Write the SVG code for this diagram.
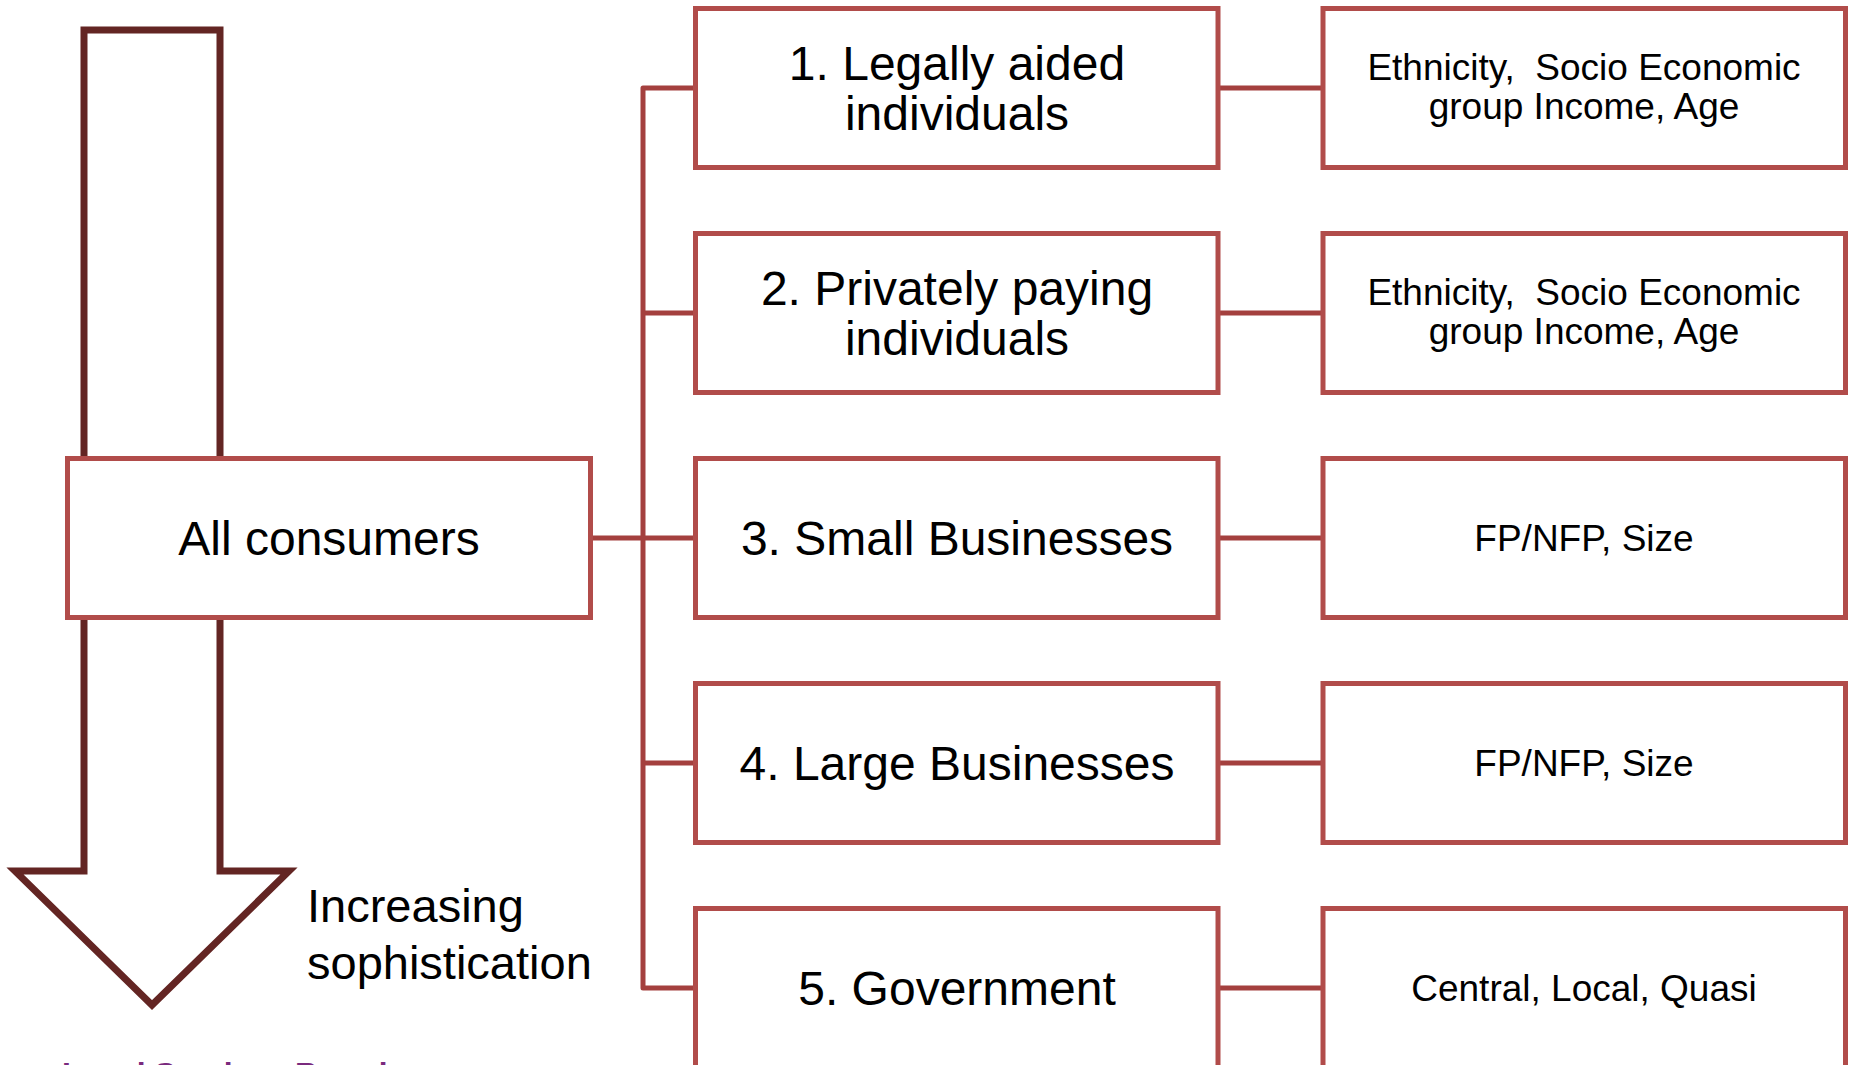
<svg xmlns="http://www.w3.org/2000/svg" width="1854" height="1065" viewBox="0 0 1854 1065">
<style>
  .box { fill: #FFFFFF; stroke: #B14C4A; stroke-width: 5; }
  .conn { fill: none; stroke: #A4403E; stroke-width: 5; stroke-linejoin: round; }
  .arrow { fill: #FFFFFF; stroke: #632523; stroke-width: 7; stroke-linejoin: miter; }
  .big { font-family: "Liberation Sans", Arial, sans-serif; font-size: 48px; fill: #000000; text-anchor: middle; }
  .small { font-family: "Liberation Sans", Arial, sans-serif; font-size: 37px; fill: #000000; text-anchor: middle; }
  .side { font-family: "Liberation Sans", Arial, sans-serif; font-size: 47px; fill: #000000; }
  .foot { font-family: "Liberation Sans", Arial, sans-serif; font-size: 32px; font-weight: bold; fill: #7A2A7E; }
</style>
<rect width="1854" height="1065" fill="#FFFFFF"/>

<g id="arrow">
  <polygon class="arrow" points="84,30 220,30 220,871 289,871 152,1005 15,871 84,871"/>
</g>

<g id="label-increasing">
  <text class="side" x="307" y="922">Increasing</text>
  <text class="side" x="307" y="979">sophistication</text>
</g>

<g id="footer">
  <text class="foot" x="62" y="1085">Legal Services Board</text>
</g>

<g id="connectors">
  <path class="conn" d="M590.5,538 H643 V88 H695.5"/>
  <path class="conn" d="M643,313 H695.5"/>
  <path class="conn" d="M643,538 H695.5"/>
  <path class="conn" d="M643,763 H695.5"/>
  <path class="conn" d="M643,538 V988 H695.5"/>
  <path class="conn" d="M1218,88 H1323"/>
  <path class="conn" d="M1218,313 H1323"/>
  <path class="conn" d="M1218,538 H1323"/>
  <path class="conn" d="M1218,763 H1323"/>
  <path class="conn" d="M1218,988 H1323"/>
</g>

<g id="all-consumers">
  <rect class="box" x="67.5" y="458.5" width="523" height="159"/>
  <text class="big" x="329" y="555">All consumers</text>
</g>

<g id="seg1">
  <rect class="box" x="695.5" y="8.5" width="522.5" height="159"/>
  <text class="big" x="957" y="80">1. Legally aided</text>
  <text class="big" x="957" y="130">individuals</text>
</g>
<g id="seg2">
  <rect class="box" x="695.5" y="233.5" width="522.5" height="159"/>
  <text class="big" x="957" y="305">2. Privately paying</text>
  <text class="big" x="957" y="355">individuals</text>
</g>
<g id="seg3">
  <rect class="box" x="695.5" y="458.5" width="522.5" height="159"/>
  <text class="big" x="957" y="555">3. Small Businesses</text>
</g>
<g id="seg4">
  <rect class="box" x="695.5" y="683.5" width="522.5" height="159"/>
  <text class="big" x="957" y="780">4. Large Businesses</text>
</g>
<g id="seg5">
  <rect class="box" x="695.5" y="908.5" width="522.5" height="159"/>
  <text class="big" x="957" y="1005">5. Government</text>
</g>

<g id="attr1">
  <rect class="box" x="1323" y="8.5" width="522.5" height="159"/>
  <text class="small" x="1584" y="80" xml:space="preserve">Ethnicity,  Socio Economic</text>
  <text class="small" x="1584" y="119">group Income, Age</text>
</g>
<g id="attr2">
  <rect class="box" x="1323" y="233.5" width="522.5" height="159"/>
  <text class="small" x="1584" y="305" xml:space="preserve">Ethnicity,  Socio Economic</text>
  <text class="small" x="1584" y="344">group Income, Age</text>
</g>
<g id="attr3">
  <rect class="box" x="1323" y="458.5" width="522.5" height="159"/>
  <text class="small" x="1584" y="551">FP/NFP, Size</text>
</g>
<g id="attr4">
  <rect class="box" x="1323" y="683.5" width="522.5" height="159"/>
  <text class="small" x="1584" y="776">FP/NFP, Size</text>
</g>
<g id="attr5">
  <rect class="box" x="1323" y="908.5" width="522.5" height="159"/>
  <text class="small" x="1584" y="1001">Central, Local, Quasi</text>
</g>
</svg>
